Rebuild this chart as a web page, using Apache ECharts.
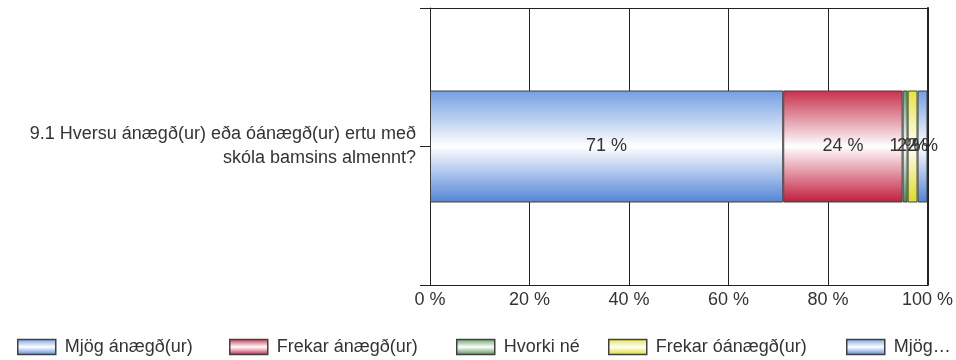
<!DOCTYPE html>
<html>
<head>
<meta charset="utf-8">
<script src="https://cdn.jsdelivr.net/npm/echarts@6/dist/echarts.min.js"></script>
<style>html,body{margin:0;padding:0;background:#fff}#c{width:956px;height:360px}</style>
</head>
<body>
<div id="c"></div>
<script>
const categories = ['9.1 Hversu ánægð(ur) eða óánægð(ur) ertu með\nskóla bamsins almennt?'];
const seriesNames = ['Mjög ánægð(ur)', 'Frekar ánægð(ur)', 'Hvorki né', 'Frekar óánægð(ur)', 'Mjög óánægð(ur)'];
const vMjogAnaegd = [71];
const vFrekarAnaegd = [24];
const vHvorki = [1];
const vFrekarOanaegd = [2];
const vMjogOanaegd = [2];
const xTicks = [0, 20, 40, 60, 80, 100];

const FONT = "'Liberation Sans', Arial, sans-serif";
const FS = 18;
const TXT = '#333';

function grad(top, bottom) {
  return new echarts.graphic.LinearGradient(0, 0, 0, 1, [
    { offset: 0, color: top },
    { offset: 0.5, color: '#ffffff' },
    { offset: 1, color: bottom }
  ]);
}
const fills = [
  grad('#729ee2', '#5283d6'),
  grad('#c8304c', '#c01c3c'),
  grad('#5f9f5f', '#4c8c4c'),
  grad('#e4e43a', '#dcdc20'),
  grad('#729ee2', '#5283d6')
];
const values = [vMjogAnaegd, vFrekarAnaegd, vHvorki, vFrekarOanaegd, vMjogOanaegd];

const series = seriesNames.map((name, i) => ({
  name: name,
  type: 'bar',
  stack: 'total',
  barWidth: 112,
  yAxisIndex: 0,
  data: values[i],
  itemStyle: { color: fills[i], borderColor: '#404040', borderWidth: 1 },
  label: {
    show: true,
    position: 'inside',
    formatter: '{c} %',
    color: TXT,
    fontFamily: FONT,
    fontSize: FS
  },
  labelLayout: { hideOverlap: false }
}));

const legendLefts = [12, 224, 451, 603, 841];
const legends = seriesNames.map((name, i) => ({
  data: [{ name: name, icon: 'rect' }],
  left: legendLefts[i],
  top: 333,
  itemWidth: 38,
  itemHeight: 15,
  selectedMode: false,
  itemStyle: { borderColor: '#404040', borderWidth: 1.5 },
  textStyle: Object.assign({
    color: TXT, fontFamily: FONT, fontSize: FS, padding: [0, 0, 0, 4]
  }, i === 4 ? { width: 66, overflow: 'truncate', ellipsis: '…' } : {})
}));

const chart = echarts.init(document.getElementById('c'), null, { renderer: 'canvas' });
chart.setOption({
  animation: false,
  grid: { left: 430, right: 28, top: 8, bottom: 75, containLabel: false },
  legend: legends,
  xAxis: {
    type: 'value',
    min: 0,
    max: 100,
    interval: 20,
    axisLine: { show: true, lineStyle: { color: '#222', width: 1 } },
    axisTick: { show: false },
    splitLine: { show: true, lineStyle: { color: '#222', width: 1 } },
    axisLabel: {
      formatter: v => xTicks.includes(v) ? v + ' %' : '',
      color: TXT, fontFamily: FONT, fontSize: FS, margin: 6
    }
  },
  yAxis: [
    {
      type: 'category',
      data: categories,
      axisLine: { show: true, lineStyle: { color: '#222', width: 1 } },
      axisTick: { show: true, alignWithLabel: false, length: 10, lineStyle: { color: '#222' } },
      splitLine: { show: true, lineStyle: { color: '#222', width: 1 } },
      axisLabel: {
        color: TXT, fontFamily: FONT, fontSize: FS, lineHeight: 24, align: 'right', margin: 14
      }
    },
    {
      type: 'category',
      data: categories,
      position: 'left',
      axisLine: { show: false },
      axisTick: { show: true, alignWithLabel: true, length: 10, lineStyle: { color: '#222' } },
      splitLine: { show: false },
      axisLabel: { show: false }
    },
    {
      type: 'category',
      data: categories,
      position: 'right',
      axisLine: { show: true, lineStyle: { color: '#222', width: 2 } },
      axisTick: { show: false },
      splitLine: { show: false },
      axisLabel: { show: false }
    }
  ],
  series: series
});
</script>
</body>
</html>
